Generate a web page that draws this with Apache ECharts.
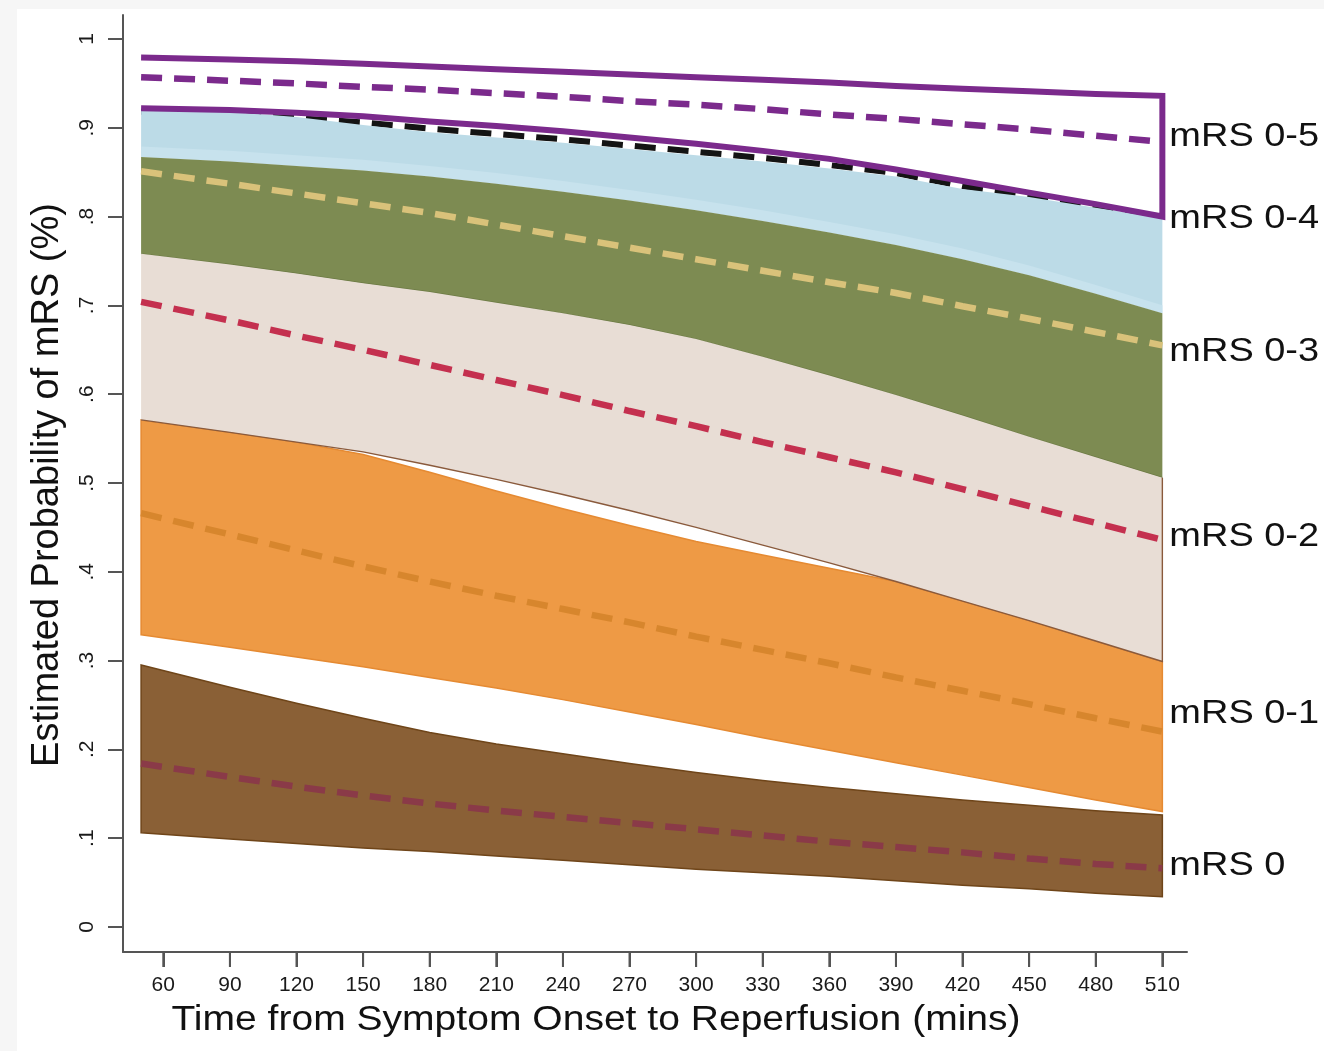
<!DOCTYPE html>
<html><head><meta charset="utf-8">
<script src="https://cdn.jsdelivr.net/npm/echarts@6/dist/echarts.min.js"></script>
<style>html,body{margin:0;padding:0;background:#fff}#c{width:1324px;height:1051px}</style>
</head><body><div id="c"></div>
<script>
// ---------- data ----------
const times = [50,90,120,150,180,210,240,270,300,330,360,390,420,450,480,510];
const xTicks = [60,90,120,150,180,210,240,270,300,330,360,390,420,450,480,510];
const yTicks = [0,0.1,0.2,0.3,0.4,0.5,0.6,0.7,0.8,0.9,1];
const yTickLabels = ['0','.1','.2','.3','.4','.5','.6','.7','.8','.9','1'];

// mRS 0
const mrs0Lower = [0.106,0.099,0.094,0.089,0.085,0.080,0.075,0.070,0.065,0.061,0.057,0.052,0.047,0.043,0.038,0.034];
const mrs0Upper = [0.295,0.270,0.252,0.235,0.219,0.206,0.195,0.184,0.174,0.165,0.157,0.150,0.143,0.137,0.131,0.126];
const mrs0Est   = [0.184,0.169,0.158,0.148,0.139,0.131,0.124,0.117,0.110,0.103,0.096,0.090,0.084,0.077,0.071,0.066];
// mRS 0-1
const mrs01Lower = [0.329,0.315,0.304,0.293,0.281,0.269,0.256,0.242,0.228,0.213,0.199,0.185,0.171,0.157,0.143,0.130];
const mrs01Upper = [0.571,0.557,0.546,0.532,0.512,0.491,0.471,0.452,0.434,0.419,0.404,0.389,0.367,0.345,0.322,0.299];
const mrs01Est   = [0.466,0.442,0.424,0.406,0.389,0.373,0.358,0.343,0.327,0.312,0.297,0.281,0.266,0.251,0.235,0.220];
// mRS 0-2
const mrs02Lower = [0.571,0.557,0.546,0.535,0.520,0.504,0.487,0.469,0.450,0.430,0.410,0.389,0.367,0.345,0.322,0.299];
const mrs02Upper = [0.758,0.746,0.736,0.725,0.715,0.703,0.691,0.678,0.662,0.642,0.621,0.599,0.576,0.552,0.529,0.506];
const mrs02Est   = [0.704,0.683,0.666,0.650,0.633,0.616,0.599,0.581,0.564,0.546,0.529,0.512,0.493,0.474,0.455,0.436];
// mRS 0-3
const mrs03Lower = [0.758,0.746,0.736,0.725,0.715,0.703,0.691,0.678,0.662,0.642,0.621,0.599,0.576,0.552,0.529,0.506];
const mrs03Upper = [0.867,0.862,0.857,0.852,0.845,0.837,0.828,0.818,0.807,0.795,0.782,0.768,0.752,0.734,0.713,0.691];
const mrs03Est   = [0.851,0.837,0.826,0.815,0.804,0.791,0.778,0.765,0.752,0.739,0.726,0.714,0.699,0.685,0.670,0.655];
// mRS 0-4 (outer light-blue band, inner lighter stripe)
const mrs04Lower = [0.867,0.862,0.857,0.852,0.845,0.837,0.828,0.818,0.807,0.795,0.782,0.768,0.752,0.734,0.713,0.691];
const mrs04Inner = [0.879,0.874,0.869,0.864,0.857,0.849,0.840,0.830,0.819,0.807,0.794,0.780,0.764,0.745,0.723,0.700];
const mrs04Upper = [0.920,0.918,0.912,0.903,0.895,0.889,0.883,0.876,0.869,0.862,0.854,0.845,0.831,0.822,0.810,0.798];
const mrs04Est   = [0.918,0.915,0.911,0.906,0.899,0.893,0.887,0.880,0.873,0.866,0.858,0.849,0.834,0.823,0.811,0.800];
// mRS 0-5
const mrs05Lower = [0.922,0.920,0.917,0.913,0.907,0.902,0.896,0.889,0.882,0.874,0.865,0.853,0.840,0.827,0.814,0.800];
const mrs05Upper = [0.979,0.977,0.975,0.972,0.969,0.966,0.963,0.960,0.957,0.954,0.951,0.947,0.944,0.941,0.938,0.936];
const mrs05Est   = [0.957,0.953,0.950,0.946,0.943,0.939,0.935,0.930,0.926,0.921,0.915,0.910,0.904,0.898,0.891,0.884];

const endLabels = ['mRS 0-5','mRS 0-4','mRS 0-3','mRS 0-2','mRS 0-1','mRS 0'];
const xTitle = 'Time from Symptom Onset to Reperfusion (mins)';
const yTitle = 'Estimated Probability of mRS (%)';

// ---------- styles ----------
const FONT = '"Liberation Sans", Arial, Helvetica, sans-serif';
const C = {
  purple:'#7b2a8c', black:'#141414', blue:'#bcdbe7', blueInner:'#c7e2ed', green:'#7d8b52', greenEdge:'#6c7a44',
  beige:'#e8ddd5', beigeEdge:'#8a5a3c', orange:'#ee9a45', orangeEdge:'#e58a32',
  brown:'#8a6036', brownEdge:'#6f4519', tan:'#d9c27a', crimson:'#c4304f',
  orangeDash:'#d7862d', maroon:'#8a3a48', axis:'#555555'
};

function band(name, lower, upper, fill, z, edge, edgeMode) {
  return {
    type:'custom', name, coordinateSystem:'cartesian2d', z, silent:true, animation:false,
    data: times.map((t,i)=>[t, lower[i], upper[i]]),
    encode:{x:0, y:[1,2]},
    renderItem:(params, api)=>{
      if (params.dataIndex !== 0) return null;
      const lo = times.map((t,i)=>api.coord([t, lower[i]]));
      const up = times.map((t,i)=>api.coord([t, upper[i]])).reverse();
      const children = [{type:'polygon', shape:{points: lo.concat(up)},
        style:{fill, stroke: edgeMode==='all' ? edge : null, lineWidth:1.5}}];
      if (edgeMode==='lowerRight') children.push({type:'polyline', shape:{points: lo.concat([up[0]])},
        style:{fill:null, stroke:edge, lineWidth:1.4}});
      if (edgeMode==='lower') children.push({type:'polyline', shape:{points: lo},
        style:{fill:null, stroke:edge, lineWidth:1.4}});
      return {type:'group', children};
    }
  };
}
function dashed(name, vals, color, z, width) {
  return {type:'line', name, data: times.map((t,i)=>[t, vals[i]]), symbol:'none', showSymbol:false,
    z, silent:true, animation:false,
    lineStyle:{color, width: width || 6.5, type:[21,12], cap:'butt'}};
}

const outlinePath = times.map((t,i)=>[t, mrs05Lower[i]])
  .concat(times.slice().reverse().map((t,k)=>[t, mrs05Upper[times.length-1-k]]));

const option = {
  backgroundColor:'#ffffff',
  animation:false,
  grid:{left:123, right:137, top:15, bottom:99, containLabel:false, outerBoundsMode:'none'},
  xAxis:{
    type:'value', position:'bottom', min:41.85, max:521.1,
    axisLine:{show:true, onZero:false, lineStyle:{color:C.axis, width:2}},
    axisTick:{show:true, inside:false, length:15, lineStyle:{color:C.axis, width:2}, customValues:xTicks},
    axisLabel:{customValues:xTicks, fontSize:21, color:'#1a1a1a', fontFamily:FONT, margin:23},
    splitLine:{show:false}
  },
  yAxis:{
    type:'value', position:'left', min:-0.0282, max:1.027,
    axisLine:{show:true, onZero:false, lineStyle:{color:C.axis, width:2}},
    axisTick:{show:true, inside:false, length:15, lineStyle:{color:C.axis, width:2}, customValues:yTicks},
    axisLabel:{customValues:yTicks, rotate:90, fontSize:21, color:'#1a1a1a', fontFamily:FONT, margin:25,
      formatter:(v)=>{ const i = yTicks.findIndex(t=>Math.abs(t-v)<1e-9); return i>=0 ? yTickLabels[i] : ''; }},
    splitLine:{show:false}
  },
  series:[
    dashed('mRS 0-4 estimate', mrs04Est, C.black, 1, 6),
    band('mRS 0-4 band', mrs04Lower, mrs04Upper, C.blue, 2, null, 'none'),
    band('mRS 0-4 inner', mrs04Lower, mrs04Inner, C.blueInner, 2, null, 'none'),
    band('mRS 0-3 band', mrs03Lower, mrs03Upper, C.green, 3, C.greenEdge, 'lower'),
    band('mRS 0-1 band', mrs01Lower, mrs01Upper, C.orange, 4, C.orangeEdge, 'all'),
    band('mRS 0-2 band', mrs02Lower, mrs02Upper, C.beige, 5, C.beigeEdge, 'lowerRight'),
    band('mRS 0 band', mrs0Lower, mrs0Upper, C.brown, 6, C.brownEdge, 'all'),
    dashed('mRS 0-3 estimate', mrs03Est, C.tan, 10),
    dashed('mRS 0-2 estimate', mrs02Est, C.crimson, 10),
    dashed('mRS 0-1 estimate', mrs01Est, C.orangeDash, 10),
    dashed('mRS 0 estimate', mrs0Est, C.maroon, 10),
    dashed('mRS 0-5 estimate', mrs05Est, C.purple, 11),
    {type:'line', name:'mRS 0-5 band', data: outlinePath, symbol:'none', showSymbol:false, z:12, silent:true,
      animation:false, lineStyle:{color:C.purple, width:6, join:'miter', cap:'butt'}}
  ]
};

const chart = echarts.init(document.getElementById('c'), null, {renderer:'canvas'});
chart.setOption(option);

// end-of-curve labels anchored to each curve's last value
const labelAnchors = [
  [mrs05Est, -5], [mrs04Est, 2], [mrs03Est, 7], [mrs02Est, -3], [mrs01Est, -18], [mrs0Est, -2]
];
const lastT = times[times.length-1];
const labelGraphics = endLabels.map((txt,i)=>{
  const arr = labelAnchors[i][0];
  const p = chart.convertToPixel({gridIndex:0}, [lastT, arr[arr.length-1]]);
  return {type:'text', x:p[0]+7, y:p[1]+labelAnchors[i][1], scaleX:1.15, z:50,
    style:{text:txt, fontSize:33, fontFamily:FONT, fill:'#111', align:'left', verticalAlign:'middle'}};
});
// x-axis tick marks positioned through the axis scale (fallback in case the axis hides them)
const axisY = chart.convertToPixel({gridIndex:0}, [xTicks[0], -0.0282])[1];
const xTickMarks = xTicks.map(v=>{
  const px = chart.convertToPixel({gridIndex:0}, [v, 0])[0];
  return {type:'line', shape:{x1:px, y1:axisY, x2:px, y2:axisY+15}, style:{stroke:C.axis, lineWidth:2}, z:40};
});
chart.setOption({graphic:[
  {type:'rect', shape:{x:0, y:0, width:1324, height:9}, style:{fill:'#f6f6f6'}, z:-1},
  {type:'rect', shape:{x:0, y:0, width:17, height:1051}, style:{fill:'#f6f6f6'}, z:-1},
  {type:'text', x:596, y:1020, scaleX:1.1, z:50,
    style:{text:xTitle, fontSize:35.5, fontFamily:FONT, fill:'#111', align:'center', verticalAlign:'middle'}},
  {type:'text', x:48, y:485, rotation:Math.PI/2, z:50,
    style:{text:yTitle, fontSize:38, fontFamily:FONT, fill:'#111', align:'center', verticalAlign:'middle'}}
].concat(labelGraphics, xTickMarks)});
</script>
</body></html>
